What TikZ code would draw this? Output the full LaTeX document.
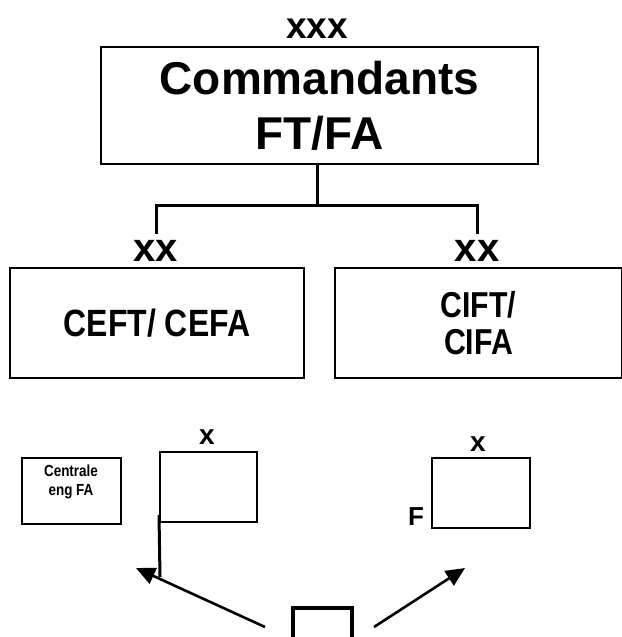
\documentclass[tikz,border=0pt]{standalone}
\usepackage{fontspec}
\setmainfont{Liberation Sans}
\newfontfamily\narrowsans[FakeStretch=0.84]{Liberation Sans}
\usetikzlibrary{arrows.meta}
\begin{document}
\begin{tikzpicture}[x=1pt,y=-1pt,
  box/.style={draw,line width=2pt,inner sep=0pt,align=center},
  lbl/.style={inner sep=0pt,font=\bfseries},
  link/.style={line width=3pt},
  pointer/.style={line width=2.6pt,-{Triangle[length=19pt,width=17pt]}}]
\useasboundingbox (0,0) rectangle (621,637);

% command level
\node[box,minimum width=437pt,minimum height=117pt,
      font=\bfseries\fontsize{46}{55}\selectfont] (cmd) at (319.5,105.5) {Commandants\\FT/FA};
\node[lbl,font=\bfseries\fontsize{37}{37}\selectfont] (cmdx) at (317,29) {xxx};

% subordinate schools
\node[box,minimum width=294pt,minimum height=110pt,
      font=\narrowsans\bfseries\fontsize{38}{38}\selectfont] (ceft) at (157,323) {CEFT/ CEFA};
\node[box,minimum width=287pt,minimum height=110pt,
      font=\narrowsans\bfseries\fontsize{36}{37}\selectfont] (cift) at (478.5,323) {CIFT/\\CIFA};
\node[lbl,font=\bfseries\fontsize{40}{40}\selectfont] (ceftx) at (156,251) {xx};
\node[lbl,font=\bfseries\fontsize{40}{40}\selectfont] (ciftx) at (477,251) {xx};

% branching connector
\coordinate (fork) at (317,205);
\coordinate (forkl) at (156,205);
\coordinate (forkr) at (477,205);
\coordinate (dropl) at (156,234);
\coordinate (dropr) at (477,234);
\draw[link] (cmd.south -| fork) -- (fork);
\draw[link] (dropl) -- (forkl) -- (forkr) -- (dropr);

% lower units
\node[box,minimum width=99pt,minimum height=66pt] (cent) at (71.5,491) {};
\node[lbl,align=center,font=\narrowsans\bfseries\fontsize{16}{18.5}\selectfont] (centt) at (71,482) {Centrale\\eng FA};

\node[box,minimum width=97pt,minimum height=70pt] (unitl) at (208.5,487) {};
\node[lbl,font=\bfseries\fontsize{28}{28}\selectfont] (unitlx) at (207,437) {x};
\coordinate (staffl) at (160,577);
\draw[line width=3pt] (unitl.west |- 0,515) -- (staffl);

\node[box,minimum width=98pt,minimum height=70pt] (unitr) at (481,493) {};
\node[lbl,font=\bfseries\fontsize{28}{28}\selectfont] (unitrx) at (478,444) {x};
\node[lbl,font=\bfseries\fontsize{26}{26}\selectfont] (unitrf) at (416,517) {F};

% small open box at the bottom
\coordinate (sbl) at (293,650);
\coordinate (sbtl) at (293,608);
\coordinate (sbtr) at (352,608);
\coordinate (sbr) at (352,650);
\draw[line width=3.6pt] (sbl) -- (sbtl) -- (sbtr) -- (sbr);

% pointers
\coordinate (pl0) at (265,627);
\coordinate (pl1) at (136,568);
\coordinate (pr0) at (374,627);
\coordinate (pr1) at (465,568);
\draw[pointer] (pl0) -- (pl1);
\draw[pointer] (pr0) -- (pr1);
\end{tikzpicture}
\end{document}
